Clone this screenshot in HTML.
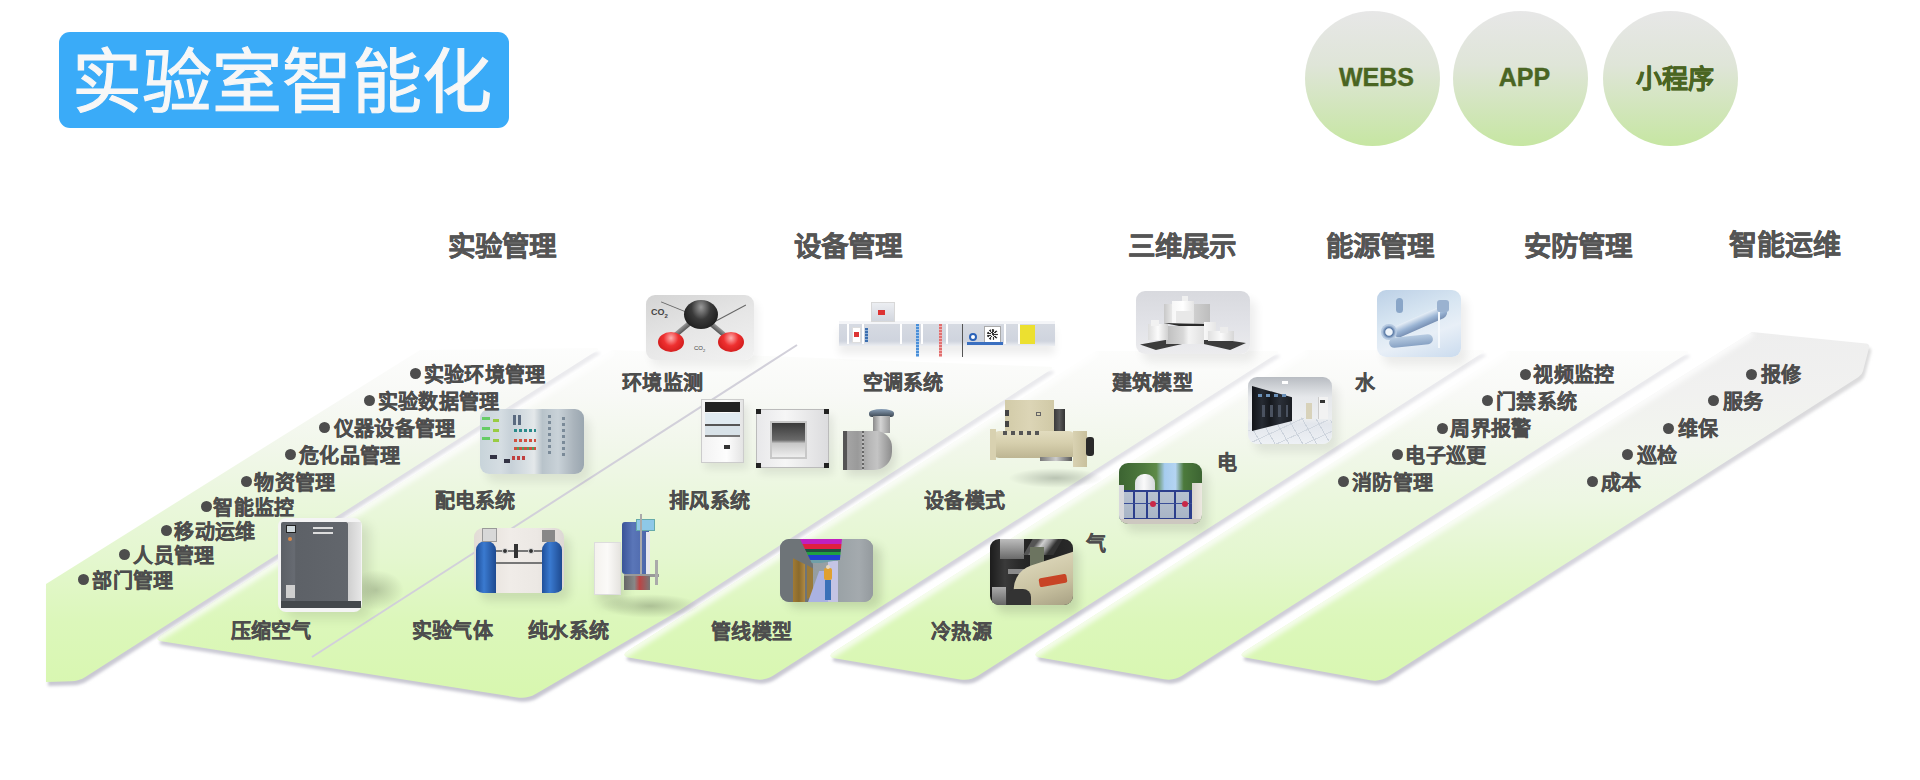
<!DOCTYPE html>
<html lang="zh-CN">
<head>
<meta charset="utf-8">
<style>
*{margin:0;padding:0;box-sizing:border-box}
html,body{width:1920px;height:780px;overflow:hidden;background:#fff}
body{position:relative;font-family:"Liberation Sans",sans-serif;color:#4d4d4d}
.abs{position:absolute}
#title{left:59px;top:32px;width:450px;height:96px;border-radius:11px;background:#3aabf8}
#title span{position:absolute;left:13px;top:11px;font-size:70px;line-height:80px;color:#f7f7f7;white-space:nowrap;-webkit-text-stroke:1.1px #f7f7f7}
.circ{position:absolute;top:11px;width:135px;height:135px;border-radius:50%;background:linear-gradient(#e7e7e7 0%,#dfe5d8 40%,#c6e6a2 100%);color:#4a6522;-webkit-text-stroke:0.4px #4a6522;font-weight:bold;font-size:25px;text-align:center;line-height:133px;padding-left:8px}
.hd{position:absolute;top:229px;font-size:27.5px;font-weight:bold;color:#555;-webkit-text-stroke:0.4px #555;white-space:nowrap;line-height:36px}
.lb{position:absolute;font-size:20px;letter-spacing:0.3px;font-weight:bold;color:#4d4d4d;-webkit-text-stroke:0.35px #4d4d4d;white-space:nowrap;line-height:24px}
.dot{position:absolute;width:11px;height:11px;border-radius:50%;background:#4d4d4d}
svg{position:absolute;left:0;top:0}
.ph{position:absolute;border-radius:9px;overflow:hidden}
</style>
</head>
<body>
<svg width="1920" height="780" viewBox="0 0 1920 780">
<defs>
<linearGradient id="g" gradientUnits="userSpaceOnUse" x1="0" y1="690" x2="0" y2="335">
<stop offset="0" stop-color="#d8f7b0"/>
<stop offset="0.2" stop-color="#dcf7bb"/>
<stop offset="0.37" stop-color="#e4f7cf"/>
<stop offset="0.53" stop-color="#eaf7dc"/>
<stop offset="0.68" stop-color="#f1f7ea"/>
<stop offset="0.83" stop-color="#f8f9f6"/>
<stop offset="1" stop-color="#fefefe"/>
</linearGradient>
<linearGradient id="sh" gradientUnits="userSpaceOnUse" x1="0" y1="700" x2="0" y2="340"><stop offset="0" stop-color="#c6c5d0"/><stop offset="0.45" stop-color="#d6d5de"/><stop offset="0.8" stop-color="#e6e6ea"/><stop offset="1" stop-color="#ededf0"/></linearGradient>
<linearGradient id="g6" gradientUnits="userSpaceOnUse" x1="0" y1="690" x2="0" y2="330"><stop offset="0" stop-color="#d8f7b0"/><stop offset="0.2" stop-color="#dcf7bb"/><stop offset="0.37" stop-color="#e4f7cf"/><stop offset="0.53" stop-color="#edf7e3"/><stop offset="0.68" stop-color="#f2f5ee"/><stop offset="0.83" stop-color="#f1f1f0"/><stop offset="1" stop-color="#eeeeee"/></linearGradient>
<linearGradient id="sh6" gradientUnits="userSpaceOnUse" x1="0" y1="700" x2="0" y2="340"><stop offset="0" stop-color="#c6c5d0"/><stop offset="0.45" stop-color="#d6d5de"/><stop offset="1" stop-color="#dcdcdc"/></linearGradient>
<filter id="bl" x="-5%" y="-5%" width="110%" height="110%"><feGaussianBlur stdDeviation="1.5"/></filter>
<filter id="hb" x="-10%" y="-10%" width="120%" height="120%"><feGaussianBlur stdDeviation="2.5"/></filter>
<filter id="bl2" x="-5%" y="-5%" width="110%" height="110%"><feGaussianBlur stdDeviation="0.6"/></filter>
</defs>
<path d="M1245.5,650.7 Q1237.0,656.0 1246.8,657.8 L1370.2,680.2 Q1380.0,682.0 1388.4,676.6 L1858.6,377.1 Q1862.0,375.0 1863.0,371.1 L1869.0,347.9 Q1870.0,344.0 1866.0,343.6 L1752.0,332.0 Z" fill="url(#sh6)" filter="url(#bl)" transform="translate(2,4)"/>
<path d="M1245.5,650.7 Q1237.0,656.0 1246.8,657.8 L1370.2,680.2 Q1380.0,682.0 1388.4,676.6 L1858.6,377.1 Q1862.0,375.0 1863.0,371.1 L1869.0,347.9 Q1870.0,344.0 1866.0,343.6 L1752.0,332.0 Z" fill="url(#g6)" filter="url(#bl2)"/>
<clipPath id="c5"><path d="M1245.5,650.7 Q1237.0,656.0 1246.8,657.8 L1370.2,680.2 Q1380.0,682.0 1388.4,676.6 L1858.6,377.1 Q1862.0,375.0 1863.0,371.1 L1869.0,347.9 Q1870.0,344.0 1866.0,343.6 L1752.0,332.0 Z"/></clipPath>
<line x1="1237" y1="656" x2="1752" y2="332" stroke="#ffffff" stroke-opacity="0.75" stroke-width="9" filter="url(#hb)" clip-path="url(#c5)"/>
<path d="M1039.4,650.6 Q1031.0,656.0 1040.9,657.7 L1164.1,679.3 Q1174.0,681.0 1182.4,675.6 L1685.9,354.2 Q1691.0,351.0 1685.0,351.0 L1507.0,351.0 Z" fill="url(#sh)" filter="url(#bl)" transform="translate(2,4)"/>
<path d="M1039.4,650.6 Q1031.0,656.0 1040.9,657.7 L1164.1,679.3 Q1174.0,681.0 1182.4,675.6 L1685.9,354.2 Q1691.0,351.0 1685.0,351.0 L1507.0,351.0 Z" fill="url(#g)" filter="url(#bl2)"/>
<clipPath id="c4"><path d="M1039.4,650.6 Q1031.0,656.0 1040.9,657.7 L1164.1,679.3 Q1174.0,681.0 1182.4,675.6 L1685.9,354.2 Q1691.0,351.0 1685.0,351.0 L1507.0,351.0 Z"/></clipPath>
<line x1="1031" y1="656" x2="1507" y2="351" stroke="#ffffff" stroke-opacity="0.75" stroke-width="9" filter="url(#hb)" clip-path="url(#c4)"/>
<path d="M834.4,651.6 Q826.0,657.0 835.9,658.6 L960.1,679.4 Q970.0,681.0 978.4,675.6 L1481.9,353.2 Q1487.0,350.0 1481.0,350.0 L1306.0,350.0 Z" fill="url(#sh)" filter="url(#bl)" transform="translate(2,4)"/>
<path d="M834.4,651.6 Q826.0,657.0 835.9,658.6 L960.1,679.4 Q970.0,681.0 978.4,675.6 L1481.9,353.2 Q1487.0,350.0 1481.0,350.0 L1306.0,350.0 Z" fill="url(#g)" filter="url(#bl2)"/>
<clipPath id="c3"><path d="M834.4,651.6 Q826.0,657.0 835.9,658.6 L960.1,679.4 Q970.0,681.0 978.4,675.6 L1481.9,353.2 Q1487.0,350.0 1481.0,350.0 L1306.0,350.0 Z"/></clipPath>
<line x1="826" y1="657" x2="1306" y2="350" stroke="#ffffff" stroke-opacity="0.75" stroke-width="9" filter="url(#hb)" clip-path="url(#c3)"/>
<path d="M628.4,650.6 Q620.0,656.0 629.9,657.7 L755.1,679.3 Q765.0,681.0 773.4,675.6 L1275.9,354.2 Q1281.0,351.0 1275.0,351.0 L1096.0,351.0 Z" fill="url(#sh)" filter="url(#bl)" transform="translate(2,4)"/>
<path d="M628.4,650.6 Q620.0,656.0 629.9,657.7 L755.1,679.3 Q765.0,681.0 773.4,675.6 L1275.9,354.2 Q1281.0,351.0 1275.0,351.0 L1096.0,351.0 Z" fill="url(#g)" filter="url(#bl2)"/>
<clipPath id="c2"><path d="M628.4,650.6 Q620.0,656.0 629.9,657.7 L755.1,679.3 Q765.0,681.0 773.4,675.6 L1275.9,354.2 Q1281.0,351.0 1275.0,351.0 L1096.0,351.0 Z"/></clipPath>
<line x1="620" y1="656" x2="1096" y2="351" stroke="#ffffff" stroke-opacity="0.75" stroke-width="9" filter="url(#hb)" clip-path="url(#c2)"/>
<path d="M161.5,634.7 Q153.0,640.0 162.9,641.6 L517.1,697.4 Q527.0,699.0 535.6,694.0 L680.0,610.0 L1050.0,370.3 Q1055.0,367.0 1049.0,366.8 L612.0,350.0 Z" fill="url(#sh)" filter="url(#bl)" transform="translate(2,4)"/>
<path d="M161.5,634.7 Q153.0,640.0 162.9,641.6 L517.1,697.4 Q527.0,699.0 535.6,694.0 L680.0,610.0 L1050.0,370.3 Q1055.0,367.0 1049.0,366.8 L612.0,350.0 Z" fill="url(#g)" filter="url(#bl2)"/>
<clipPath id="c1"><path d="M161.5,634.7 Q153.0,640.0 162.9,641.6 L517.1,697.4 Q527.0,699.0 535.6,694.0 L680.0,610.0 L1050.0,370.3 Q1055.0,367.0 1049.0,366.8 L612.0,350.0 Z"/></clipPath>
<line x1="153" y1="640" x2="612" y2="350" stroke="#ffffff" stroke-opacity="0.75" stroke-width="9" filter="url(#hb)" clip-path="url(#c1)"/>
<line x1="312" y1="657" x2="797" y2="345" stroke="#d2d0da" stroke-width="2"/>
<path d="M46.0,584.0 L46.0,682.0 L71.0,681.2 Q79.0,681.0 85.7,676.7 L595.9,351.2 Q601.0,348.0 595.0,348.1 L420.0,350.0 Z" fill="url(#sh)" filter="url(#bl)" transform="translate(2,4)"/>
<path d="M46.0,584.0 L46.0,682.0 L71.0,681.2 Q79.0,681.0 85.7,676.7 L595.9,351.2 Q601.0,348.0 595.0,348.1 L420.0,350.0 Z" fill="url(#g)" filter="url(#bl2)"/>
<clipPath id="c0"><path d="M46.0,584.0 L46.0,682.0 L71.0,681.2 Q79.0,681.0 85.7,676.7 L595.9,351.2 Q601.0,348.0 595.0,348.1 L420.0,350.0 Z"/></clipPath>
</svg>
<div id="title" class="abs"><span>实验室智能化</span></div>
<div class="circ" style="left:1305px">WEBS</div>
<div class="circ" style="left:1453px">APP</div>
<div class="circ" style="left:1603px;font-size:26px;line-height:136px">小程序</div>
<div class="hd" style="left:448px">实验管理</div>
<div class="hd" style="left:794px">设备管理</div>
<div class="hd" style="left:1128px">三维展示</div>
<div class="hd" style="left:1326px">能源管理</div>
<div class="hd" style="left:1524px">安防管理</div>
<div class="hd" style="left:1729px;font-size:28px;top:228px">智能运维</div>
<!-- CO2 molecule -->
<div class="ph" style="left:646px;top:295px;width:108px;height:65px;background:linear-gradient(160deg,#d4d4d4 0%,#e6e6e6 50%,#f2f2f2 100%);box-shadow:4px 6px 8px rgba(0,0,0,.06)">
 <div class="abs" style="left:14px;top:12px;width:30px;height:1px;background:#666;transform:rotate(22deg)"></div>
 <div class="abs" style="left:66px;top:18px;width:36px;height:1px;background:#666;transform:rotate(-28deg)"></div>
 <div class="abs" style="left:25px;top:27px;width:34px;height:5px;background:linear-gradient(#999,#555);transform:rotate(-40deg)"></div>
 <div class="abs" style="left:50px;top:28px;width:34px;height:5px;background:linear-gradient(#999,#555);transform:rotate(40deg)"></div>
 <div class="abs" style="left:38px;top:5px;width:34px;height:29px;border-radius:50%;background:radial-gradient(ellipse at 50% 25%,#9a9a9a 0%,#3a3a3a 40%,#0e0e0e 100%)"></div>
 <div class="abs" style="left:12px;top:37px;width:26px;height:20px;border-radius:50%;background:radial-gradient(ellipse at 50% 30%,#ffb0b0 0%,#ee3030 40%,#c01010 100%)"></div>
 <div class="abs" style="left:72px;top:37px;width:26px;height:20px;border-radius:50%;background:radial-gradient(ellipse at 50% 30%,#ffb0b0 0%,#ee3030 40%,#c01010 100%)"></div>
 <div class="abs" style="left:5px;top:12px;font:bold 9px 'Liberation Sans',sans-serif;color:#444">CO<sub style="font-size:6px">2</sub></div>
 <div class="abs" style="left:48px;top:50px;font:6px 'Liberation Sans',sans-serif;color:#444">CO<sub style="font-size:4px">2</sub></div>
</div>
<!-- AHU -->
<div class="abs" style="left:839px;top:321px;width:216px;height:25px;background:linear-gradient(#f4f5f8 0 10%,#d6dae2 14%,#cfd4de 80%,#eceef2 100%);box-shadow:0 8px 8px rgba(0,0,0,.07)">
 <div class="abs" style="left:8px;top:3px;width:2px;height:20px;background:#fff"></div>
 <div class="abs" style="left:23px;top:3px;width:2px;height:20px;background:#fff"></div>
 <div class="abs" style="left:61px;top:3px;width:2px;height:20px;background:#fff"></div>
 <div class="abs" style="left:82px;top:3px;width:2px;height:20px;background:#fff"></div>
 <div class="abs" style="left:107px;top:3px;width:2px;height:20px;background:#fff"></div>
 <div class="abs" style="left:165px;top:3px;width:2px;height:20px;background:#fff"></div>
 <div class="abs" style="left:179px;top:3px;width:2px;height:20px;background:#fff"></div>
 <div class="abs" style="left:13px;top:6px;width:9px;height:16px;background:#fff;border:1px solid #ddd"></div>
 <div class="abs" style="left:15px;top:11px;width:5px;height:5px;background:#d33"></div>
 <div class="abs" style="left:26px;top:7px;width:3px;height:14px;background:repeating-linear-gradient(#3c6fb0 0 2px,#8fb0d8 2px 3px)"></div>
 <div class="abs" style="left:77px;top:3px;width:3px;height:33px;background:repeating-linear-gradient(#4a8fd8 0 2px,#9cc4ee 2px 3px)"></div>
 <div class="abs" style="left:100px;top:3px;width:3px;height:33px;background:repeating-linear-gradient(#e07070 0 2px,#f4b0b0 2px 3px)"></div>
 <div class="abs" style="left:123px;top:3px;width:1px;height:33px;background:#555"></div>
 <div class="abs" style="left:130px;top:12px;width:8px;height:8px;border-radius:50%;border:2px solid #2a62b8;background:#fff"></div>
 <div class="abs" style="left:145px;top:5px;width:17px;height:17px;background:#fff;border:1px solid #aaa"></div>
 <div class="abs" style="left:148px;top:8px;width:11px;height:11px;border-radius:50%;background:repeating-conic-gradient(#333 0 20deg,#eee 20deg 40deg)"></div>
 <div class="abs" style="left:128px;top:21px;width:36px;height:3px;background:#3a6fc0"></div>
 <div class="abs" style="left:181px;top:4px;width:15px;height:19px;background:#ece030"></div>
</div>
<div class="abs" style="left:871px;top:302px;width:24px;height:20px;background:linear-gradient(#eceef2,#d2d6de);border:1px solid #d8d8d8"></div>
<div class="abs" style="left:878px;top:310px;width:7px;height:5px;background:#d33"></div>
<!-- cabinet -->
<div class="ph" style="left:480px;top:409px;width:104px;height:65px;background:linear-gradient(90deg,#c8d4da 0%,#d5dde2 20%,#c7d1d8 30%,#d9e0e4 45%,#e4e8ea 52%,#b8c3ca 60%,#c9d2d8 75%,#aab4bc 90%,#9aa6b0 100%);box-shadow:6px 8px 10px rgba(0,0,0,.08)">
 <div class="abs" style="left:2px;top:8px;width:8px;height:30px;background:repeating-linear-gradient(#6c6 0 3px,transparent 3px 10px)"></div>
 <div class="abs" style="left:13px;top:10px;width:6px;height:28px;background:repeating-linear-gradient(#9c4 0 3px,transparent 3px 10px)"></div>
 <div class="abs" style="left:33px;top:6px;width:3px;height:10px;background:#5a6a80"></div>
 <div class="abs" style="left:38px;top:6px;width:3px;height:10px;background:#5a6a80"></div>
 <div class="abs" style="left:34px;top:20px;width:22px;height:3px;background:repeating-linear-gradient(90deg,#2a8a8a 0 3px,transparent 3px 5px)"></div>
 <div class="abs" style="left:34px;top:30px;width:22px;height:3px;background:repeating-linear-gradient(90deg,#d05040 0 3px,transparent 3px 5px)"></div>
 <div class="abs" style="left:34px;top:38px;width:22px;height:3px;background:repeating-linear-gradient(90deg,#d05040 0 3px,#50a060 3px 5px)"></div>
 <div class="abs" style="left:32px;top:47px;width:14px;height:4px;background:repeating-linear-gradient(90deg,#c04040 0 3px,transparent 3px 5px)"></div>
 <div class="abs" style="left:10px;top:46px;width:7px;height:4px;background:#334"></div>
 <div class="abs" style="left:24px;top:50px;width:6px;height:4px;background:#334"></div>
 <div class="abs" style="left:68px;top:6px;width:3px;height:40px;background:repeating-linear-gradient(#7a8a98 0 3px,transparent 3px 6px)"></div>
 <div class="abs" style="left:82px;top:8px;width:3px;height:40px;background:repeating-linear-gradient(#7a8a98 0 3px,transparent 3px 6px)"></div>
</div>
<!-- fume hood -->
<div class="abs" style="left:701px;top:399px;width:43px;height:64px;background:linear-gradient(90deg,#f2f2f2,#fdfdfd 60%,#e4e4e4);border:1px solid #ccc;box-shadow:4px 6px 8px rgba(0,0,0,.08)">
 <div class="abs" style="left:3px;top:2px;width:35px;height:10px;background:#222"></div>
 <div class="abs" style="left:3px;top:13px;width:35px;height:11px;background:#e0eaf0"></div>
 <div class="abs" style="left:3px;top:24px;width:35px;height:2px;background:#555"></div>
 <div class="abs" style="left:3px;top:26px;width:35px;height:9px;background:#d8e2e8"></div>
 <div class="abs" style="left:3px;top:35px;width:35px;height:2px;background:#777"></div>
 <div class="abs" style="left:22px;top:45px;width:6px;height:4px;background:#333"></div>
</div>
<!-- fan box -->
<div class="abs" style="left:756px;top:409px;width:73px;height:59px;background:linear-gradient(90deg,#e8e8ea,#f6f6f6 40%,#dcdcde);border:1px solid #bbb;box-shadow:4px 6px 8px rgba(0,0,0,.08)">
 <div class="abs" style="left:13px;top:11px;width:37px;height:38px;background:linear-gradient(#3a3a3a,#6a6a6a 50%,#c8c8c8 60%,#eee);border:2px solid #c8c8c8"></div>
 <div class="abs" style="left:-1px;top:-1px;width:5px;height:5px;background:#222"></div>
 <div class="abs" style="left:67px;top:-1px;width:5px;height:5px;background:#222"></div>
 <div class="abs" style="left:-1px;top:53px;width:5px;height:5px;background:#222"></div>
 <div class="abs" style="left:67px;top:53px;width:5px;height:5px;background:#222"></div>
</div>
<!-- duct -->
<div class="abs" style="left:869px;top:409px;width:25px;height:8px;border-radius:50% 50% 3px 3px;background:linear-gradient(#8aa0b8,#3c4650)"></div>
<div class="abs" style="left:873px;top:416px;width:17px;height:17px;background:linear-gradient(90deg,#8a8a8a,#d4d4d4 45%,#9a9a9a)"></div>
<div class="abs" style="left:843px;top:431px;width:49px;height:39px;border-radius:0 16px 18px 0;background:linear-gradient(90deg,#6e6e6e 0,#a4a4a4 10%,#9a9a9a 30%,#b8b8b8 55%,#c4c4c4 70%,#8c8c8c 100%);box-shadow:4px 6px 8px rgba(0,0,0,.1)"></div>
<div class="abs" style="left:843px;top:431px;width:4px;height:39px;background:#555"></div>
<div class="abs" style="left:862px;top:431px;width:2px;height:39px;background:repeating-linear-gradient(#666 0 2px,#bbb 2px 4px)"></div>
<!-- building model -->
<div class="ph" style="left:1136px;top:291px;width:114px;height:63px;background:linear-gradient(#d8d9de,#e2e3e8 55%,#ececee);box-shadow:6px 8px 10px rgba(0,0,0,.07)">
 <div class="abs" style="left:4px;top:45px;width:106px;height:14px;background:#3c3c3c;clip-path:polygon(0 60%,45% 0,55% 0,100% 50%,85% 100%,50% 40%,15% 100%)"></div>
 <div class="abs" style="left:46px;top:5px;width:6px;height:8px;background:#f0f0f0"></div>
 <div class="abs" style="left:28px;top:13px;width:8px;height:20px;background:linear-gradient(90deg,#c8c8c8,#e8e8e8)"></div>
 <div class="abs" style="left:36px;top:10px;width:22px;height:24px;background:linear-gradient(90deg,#f6f6f6,#ffffff 50%,#e4e4e4)"></div>
 <div class="abs" style="left:58px;top:13px;width:16px;height:21px;background:linear-gradient(90deg,#cfcfcf,#bdbdbd)"></div>
 <div class="abs" style="left:40px;top:20px;width:16px;height:12px;background:#e8e8e8"></div>
 <div class="abs" style="left:28px;top:32px;width:50px;height:4px;background:#2a2a2a;clip-path:polygon(0 0,100% 30%,100% 100%,40% 100%)"></div>
 <div class="abs" style="left:30px;top:35px;width:38px;height:18px;background:linear-gradient(90deg,#bdbdbd,#d8d8d8 45%,#f4f4f4 60%,#e0e0e0)"></div>
 <div class="abs" style="left:68px;top:31px;width:12px;height:18px;background:linear-gradient(90deg,#f8f8f8,#e6e6e6)"></div>
 <div class="abs" style="left:12px;top:33px;width:20px;height:16px;background:linear-gradient(90deg,#dcdcdc,#fcfcfc 50%,#d0d0d0)"></div>
 <div class="abs" style="left:15px;top:29px;width:8px;height:6px;background:#f2f2f2"></div>
 <div class="abs" style="left:72px;top:40px;width:26px;height:10px;background:linear-gradient(90deg,#e0e0e0,#fafafa 50%,#d6d6d6)"></div>
 <div class="abs" style="left:84px;top:36px;width:8px;height:6px;background:#ececec"></div>
</div>
<!-- faucet -->
<div class="ph" style="left:1377px;top:290px;width:84px;height:67px;background:linear-gradient(160deg,#bcd0e6 0%,#d8e6f2 40%,#e8eff7 65%,#cadbee 100%);box-shadow:6px 8px 10px rgba(0,0,0,.07)">
 <div class="abs" style="left:14px;top:26px;width:58px;height:12px;border-radius:7px;background:linear-gradient(#e6eef6,#9ab4d4 55%,#7890b4);transform:rotate(-24deg)"></div>
 <div class="abs" style="left:4px;top:34px;width:16px;height:16px;border-radius:50%;background:radial-gradient(#eef4fa 28%,#5a7aa6 38%,#b4c8e0 60%)"></div>
 <div class="abs" style="left:19px;top:8px;width:7px;height:15px;border-radius:4px;background:#8aa6c8"></div>
 <div class="abs" style="left:60px;top:10px;width:12px;height:12px;border-radius:3px;background:#9ab2d0"></div>
 <div class="abs" style="left:61px;top:22px;width:2px;height:36px;background:#f4f8fc"></div>
 <div class="abs" style="left:12px;top:46px;width:44px;height:10px;border-radius:6px;background:linear-gradient(#b8cce2,#88a2c4);transform:rotate(-6deg)"></div>
</div>
<!-- server room -->
<div class="ph" style="left:1248px;top:377px;width:84px;height:67px;background:linear-gradient(#b8bcc2 0%,#d4d7db 18%,#e6e8eb 30%,#eceef0 62%,#e2e6ec 70%,#eef1f5 100%);box-shadow:6px 8px 10px rgba(0,0,0,.08)">
 <div class="abs" style="left:0;top:0;width:84px;height:67px;background:repeating-linear-gradient(60deg,transparent 0 11px,#ccd3dc 11px 12px),repeating-linear-gradient(-25deg,transparent 0 11px,#d2d8e0 11px 12px);clip-path:polygon(0 80%,60% 60%,100% 65%,100% 100%,0 100%)"></div>
 <div class="abs" style="left:4px;top:9px;width:40px;height:45px;background:linear-gradient(90deg,#121418,#262b33 25%,#15181d 45%,#2a2f38 70%,#1a1d22);clip-path:polygon(0 0,100% 25%,100% 78%,0 100%)"></div>
 <div class="abs" style="left:10px;top:17px;width:30px;height:3px;background:repeating-linear-gradient(90deg,#6a90b8 0 4px,transparent 4px 8px)"></div>
 <div class="abs" style="left:14px;top:28px;width:26px;height:12px;background:repeating-linear-gradient(90deg,#4a5260 0 3px,transparent 3px 8px)"></div>
 <div class="abs" style="left:58px;top:26px;width:6px;height:16px;background:#d8d2ba"></div>
 <div class="abs" style="left:70px;top:20px;width:10px;height:22px;background:#f2f2f2;border-left:1px solid #ccc"></div>
 <div class="abs" style="left:72px;top:23px;width:5px;height:3px;background:#333"></div>
 <div class="abs" style="left:34px;top:4px;width:6px;height:3px;background:#fff"></div>
</div>
<!-- chiller -->
<div class="abs" style="left:1008px;top:468px;width:95px;height:20px;border-radius:50%;background:radial-gradient(ellipse at center,rgba(90,100,90,.35),rgba(90,100,90,0) 70%)"></div>
<div class="abs" style="left:1005px;top:400px;width:49px;height:32px;background:linear-gradient(90deg,#d2cba8,#dcd5b6 50%,#d0c9a6)"></div>
<div class="abs" style="left:1005px;top:410px;width:4px;height:6px;background:#444"></div>
<div class="abs" style="left:1005px;top:421px;width:4px;height:6px;background:#444"></div>
<div class="abs" style="left:1036px;top:412px;width:5px;height:4px;border:1px solid #666"></div>
<div class="abs" style="left:1054px;top:409px;width:11px;height:24px;background:linear-gradient(90deg,#3a3a3a,#5a5a5a 50%,#333)"></div>
<div class="abs" style="left:993px;top:431px;width:82px;height:27px;border-radius:6px;background:linear-gradient(#e2dcbf,#d6cfad 45%,#bdb592)"></div>
<div class="abs" style="left:1003px;top:431px;width:40px;height:4px;background:repeating-linear-gradient(90deg,#555 0 4px,transparent 4px 8px)"></div>
<div class="abs" style="left:990px;top:429px;width:6px;height:31px;background:#d8d1b0"></div>
<div class="abs" style="left:1073px;top:431px;width:14px;height:36px;background:linear-gradient(90deg,#d9d2b2,#c8c09c)"></div>
<div class="abs" style="left:1086px;top:437px;width:8px;height:19px;border-radius:3px;background:#2a2a2a"></div>
<div class="abs" style="left:1040px;top:457px;width:32px;height:4px;background:linear-gradient(90deg,#777,#ccc,#555)"></div>
<!-- gas tank -->
<div class="ph" style="left:1119px;top:463px;width:83px;height:61px;background:linear-gradient(90deg,#3c6432 0%,#4e7a3e 30%,#5e8a48 45%,#a6ccee 55%,#b4d4f2 68%,#4c7a3c 78%,#3c6432 100%);box-shadow:6px 8px 10px rgba(0,0,0,.1)">
 <div class="abs" style="left:16px;top:11px;width:20px;height:34px;border-radius:9px 9px 0 0;background:linear-gradient(90deg,#dcdfe2,#fafafa 45%,#d4d7da)"></div>
 <div class="abs" style="left:0px;top:27px;width:73px;height:30px;background:linear-gradient(#b8c2d0,#a8b4c6)"></div>
 <div class="abs" style="left:0px;top:27px;width:73px;height:30px;background:linear-gradient(90deg,transparent 0 14px,#2c3e8c 14px 16px,transparent 16px 27px,#2c3e8c 27px 29px,transparent 29px 39px,#2c3e8c 39px 41px,transparent 41px 55px,#2c3e8c 55px 57px,transparent 57px 70px,#2c3e8c 70px 73px)"></div>
 <div class="abs" style="left:0px;top:27px;width:73px;height:30px;background:linear-gradient(#2c3e8c 0 2px,transparent 2px 13px,#3a4e98 13px 14px,transparent 14px 28px,#2c3e8c 28px 30px)"></div>
 <div class="abs" style="left:0px;top:22px;width:5px;height:36px;background:#d8d8dc"></div>
 <div class="abs" style="left:73px;top:20px;width:10px;height:38px;background:linear-gradient(90deg,#d8d4cc,#ece8e0)"></div>
 <div class="abs" style="left:31px;top:38px;width:6px;height:6px;border-radius:50%;background:#c82848"></div>
 <div class="abs" style="left:63px;top:38px;width:6px;height:6px;border-radius:50%;background:#c82848"></div>
 <div class="abs" style="left:0px;top:56px;width:83px;height:5px;background:#cdc8c0"></div>
</div>
<!-- TRANE -->
<div class="ph" style="left:990px;top:539px;width:83px;height:66px;background:linear-gradient(90deg,#1c1c1c 0%,#3a3a3a 18%,#2a2a2a 35%,#1e1e1e 60%,#2a2a2a 100%);box-shadow:6px 8px 10px rgba(0,0,0,.12)">
 <div class="abs" style="left:10px;top:0px;width:24px;height:20px;background:linear-gradient(#bdbdbd,#6a6a6a)"></div>
 <div class="abs" style="left:38px;top:0px;width:30px;height:16px;background:linear-gradient(100deg,#555 0 20%,#cfcfcf 40%,#9a9a9a 60%,#333 80%);transform:skewX(-30deg)"></div>
 <div class="abs" style="left:40px;top:8px;width:14px;height:22px;background:#6c7460"></div>
 <div class="abs" style="left:18px;top:30px;width:40px;height:5px;background:#8a8a8a"></div>
 <div class="abs" style="left:25px;top:33px;width:80px;height:50px;border-radius:40px 0 0 40px;background:linear-gradient(#d8d2b4,#c8c1a0 50%,#a8a184);transform:rotate(-18deg);transform-origin:0 50%"></div>
 <div class="abs" style="left:49px;top:37px;width:28px;height:9px;border-radius:2px;background:#c84426;transform:rotate(-10deg)"></div>
 <div class="abs" style="left:17px;top:50px;width:24px;height:16px;background:#333;border-radius:8px 8px 0 0"></div>
 <div class="abs" style="left:2px;top:48px;width:14px;height:18px;background:linear-gradient(#aaa,#666)"></div>
</div>
<!-- pipe model -->
<div class="ph" style="left:780px;top:539px;width:93px;height:63px;background:linear-gradient(90deg,#8e969a,#9aa2a6 60%,#8c9498);box-shadow:8px 6px 10px rgba(60,70,50,.18)">
 <div class="abs" style="left:0;top:0;width:60px;height:63px;background:#6e7478;clip-path:polygon(0 0,35% 0,55% 40%,55% 100%,0 100%)"></div>
 <div class="abs" style="left:13px;top:17px;width:12px;height:46px;background:linear-gradient(90deg,#a07a34,#8a6a2c 50%,#b08a44);clip-path:polygon(0 5%,100% 18%,100% 100%,0 100%)"></div>
 <div class="abs" style="left:27px;top:26px;width:6px;height:34px;background:#9a7a3a;clip-path:polygon(0 0,100% 10%,100% 92%,0 100%)"></div>
 <div class="abs" style="left:28px;top:32px;width:32px;height:31px;background:#aab2e2;clip-path:polygon(35% 0,60% 0,100% 100%,0 100%)"></div>
 <div class="abs" style="left:48px;top:22px;width:12px;height:41px;background:#c4c4e4"></div>
 <div class="abs" style="left:58px;top:0;width:35px;height:63px;background:linear-gradient(90deg,#9aa2a6,#a4aaae 60%,#949a9e)"></div>
 <div class="abs" style="left:20px;top:0;width:42px;height:30px;background:linear-gradient(#c020c0 0 15%,#e02040 15% 35%,#205040 35% 45%,#20a040 45% 55%,#2040d0 55% 70%,#70a0a8 70% 80%,transparent 80%);clip-path:polygon(0 0,100% 0,95% 70%,50% 80%,35% 100%)"></div>
 <div class="abs" style="left:44px;top:29px;width:8px;height:12px;border-radius:2px;background:#e0a030"></div>
 <div class="abs" style="left:45px;top:41px;width:6px;height:20px;background:#3a70b8"></div>
 <div class="abs" style="left:46px;top:26px;width:4px;height:4px;border-radius:50%;background:#e8d8c0"></div>
</div>
<!-- compressor -->
<div class="abs" style="left:348px;top:570px;width:56px;height:40px;border-radius:50%;background:radial-gradient(ellipse at center,rgba(80,90,70,.3),rgba(80,90,70,0) 70%)"></div>
<div class="ph" style="left:278px;top:518px;width:84px;height:94px;background:#f4f4f4;border-radius:8px;box-shadow:8px 6px 12px rgba(0,0,0,.1)">
 <div class="abs" style="left:3px;top:4px;width:67px;height:85px;background:linear-gradient(90deg,#5c6066,#676b72 20%,#5d6167 22%,#62666c);border-radius:2px"></div>
 <div class="abs" style="left:70px;top:4px;width:13px;height:82px;background:linear-gradient(90deg,#cfcfcf,#e6e6e6)"></div>
 <div class="abs" style="left:8px;top:7px;width:10px;height:8px;background:#cfd8dc;border:1px solid #222"></div>
 <div class="abs" style="left:10px;top:19px;width:4px;height:4px;border-radius:50%;background:#d8894a"></div>
 <div class="abs" style="left:35px;top:9px;width:20px;height:2px;background:#ddd"></div>
 <div class="abs" style="left:35px;top:14px;width:20px;height:2px;background:#ddd"></div>
 <div class="abs" style="left:8px;top:67px;width:9px;height:13px;background:#cfcfcf"></div>
 <div class="abs" style="left:3px;top:83px;width:80px;height:7px;background:#44484c"></div>
</div>
<!-- gas cylinders -->
<div class="ph" style="left:474px;top:528px;width:90px;height:65px;background:linear-gradient(90deg,#e2dcd6,#f0ece8 40%,#ece8e4 70%,#ddd8d4);box-shadow:6px 8px 10px rgba(0,0,0,.1)">
 <div class="abs" style="left:2px;top:13px;width:20px;height:52px;border-radius:9px 9px 0 0;background:linear-gradient(90deg,#1f4f9a,#3a7ad0 40%,#1e4a90)"></div>
 <div class="abs" style="left:68px;top:13px;width:20px;height:52px;border-radius:9px 9px 0 0;background:linear-gradient(90deg,#1f4f9a,#3a7ad0 40%,#1e4a90)"></div>
 <div class="abs" style="left:8px;top:0px;width:15px;height:14px;background:#d8d8d8;border:1px solid #999"></div>
 <div class="abs" style="left:68px;top:2px;width:13px;height:12px;background:#888"></div>
 <div class="abs" style="left:22px;top:22px;width:46px;height:2px;background:#777"></div>
 <div class="abs" style="left:22px;top:34px;width:46px;height:2px;background:#777"></div>
 <div class="abs" style="left:40px;top:16px;width:4px;height:14px;background:#333"></div>
 <div class="abs" style="left:28px;top:20px;width:6px;height:6px;border-radius:50%;background:#333;border:1px solid #ddd"></div>
 <div class="abs" style="left:54px;top:20px;width:6px;height:6px;border-radius:50%;background:#333;border:1px solid #ddd"></div>
</div>
<!-- water system -->
<div class="abs" style="left:600px;top:594px;width:100px;height:24px;border-radius:50%;background:radial-gradient(ellipse at center,rgba(80,90,70,.35),rgba(80,90,70,0) 70%)"></div>
<div class="abs" style="left:594px;top:542px;width:27px;height:53px;background:linear-gradient(90deg,#f4f2ee,#fbfaf8 50%,#e6e4e0);border:1px solid #ddd;box-shadow:4px 10px 12px rgba(0,0,0,.12)"></div>
<div class="abs" style="left:622px;top:522px;width:27px;height:52px;background:linear-gradient(90deg,#3a5498,#5a76b8 40%,#4a64a8);border-radius:3px"></div>
<div class="abs" style="left:636px;top:519px;width:19px;height:12px;background:#8ec8e8;border:1px solid #6aa"></div>
<div class="abs" style="left:640px;top:514px;width:2px;height:70px;background:#aaa"></div>
<div class="abs" style="left:646px;top:532px;width:4px;height:42px;background:#e8e8ee"></div>
<div class="abs" style="left:624px;top:574px;width:35px;height:3px;background:#999"></div>
<div class="abs" style="left:624px;top:576px;width:26px;height:14px;background:linear-gradient(90deg,#666,#888 40%,#b44 60%,#777)"></div>
<div class="abs" style="left:655px;top:560px;width:3px;height:25px;background:#aaa"></div>
<div class="lb" style="left:230.5px;top:619.0px">压缩空气</div>
<div class="lb" style="left:411.7px;top:619.0px">实验气体</div>
<div class="lb" style="left:528.0px;top:619.0px">纯水系统</div>
<div class="lb" style="left:711.0px;top:619.5px">管线模型</div>
<div class="lb" style="left:931.0px;top:619.5px">冷热源</div>
<div class="lb" style="left:434.5px;top:488.7px">配电系统</div>
<div class="lb" style="left:669.0px;top:489.0px">排风系统</div>
<div class="lb" style="left:924.0px;top:489.0px">设备模式</div>
<div class="lb" style="left:622.0px;top:371.0px">环境监测</div>
<div class="lb" style="left:862.6px;top:371.0px">空调系统</div>
<div class="lb" style="left:1111.7px;top:371.0px">建筑模型</div>
<div class="lb" style="left:1354.7px;top:371.0px">水</div>
<div class="lb" style="left:1217.0px;top:451.0px">电</div>
<div class="lb" style="left:1086.0px;top:532.0px">气</div>
<div class="dot" style="left:410.0px;top:368.3px"></div>
<div class="lb" style="left:423.8px;top:363.0px">实验环境管理</div>
<div class="dot" style="left:364.0px;top:395.3px"></div>
<div class="lb" style="left:377.8px;top:390.0px">实验数据管理</div>
<div class="dot" style="left:319.0px;top:421.8px"></div>
<div class="lb" style="left:333.8px;top:416.5px">仪器设备管理</div>
<div class="dot" style="left:285.0px;top:448.8px"></div>
<div class="lb" style="left:299.1px;top:443.5px">危化品管理</div>
<div class="dot" style="left:241.0px;top:475.8px"></div>
<div class="lb" style="left:254.4px;top:470.5px">物资管理</div>
<div class="dot" style="left:201.0px;top:500.8px"></div>
<div class="lb" style="left:213.4px;top:495.5px">智能监控</div>
<div class="dot" style="left:161.0px;top:524.8px"></div>
<div class="lb" style="left:174.4px;top:519.5px">移动运维</div>
<div class="dot" style="left:119.0px;top:548.8px"></div>
<div class="lb" style="left:133.4px;top:543.5px">人员管理</div>
<div class="dot" style="left:78.0px;top:573.8px"></div>
<div class="lb" style="left:92.4px;top:568.5px">部门管理</div>
<div class="dot" style="left:1519.6px;top:368.6px"></div>
<div class="lb" style="left:1533.4px;top:363.2px">视频监控</div>
<div class="dot" style="left:1482.0px;top:395.4px"></div>
<div class="lb" style="left:1496.0px;top:390.1px">门禁系统</div>
<div class="dot" style="left:1437.4px;top:422.6px"></div>
<div class="lb" style="left:1450.4px;top:417.3px">周界报警</div>
<div class="dot" style="left:1392.0px;top:449.2px"></div>
<div class="lb" style="left:1405.4px;top:443.9px">电子巡更</div>
<div class="dot" style="left:1338.4px;top:476.1px"></div>
<div class="lb" style="left:1352.0px;top:470.8px">消防管理</div>
<div class="dot" style="left:1746.0px;top:368.6px"></div>
<div class="lb" style="left:1760.7px;top:363.2px">报修</div>
<div class="dot" style="left:1708.0px;top:395.4px"></div>
<div class="lb" style="left:1722.6px;top:390.1px">服务</div>
<div class="dot" style="left:1663.0px;top:422.6px"></div>
<div class="lb" style="left:1678.0px;top:417.3px">维保</div>
<div class="dot" style="left:1622.4px;top:449.2px"></div>
<div class="lb" style="left:1636.6px;top:443.9px">巡检</div>
<div class="dot" style="left:1587.4px;top:476.1px"></div>
<div class="lb" style="left:1601.0px;top:470.8px">成本</div>
</body>
</html>
